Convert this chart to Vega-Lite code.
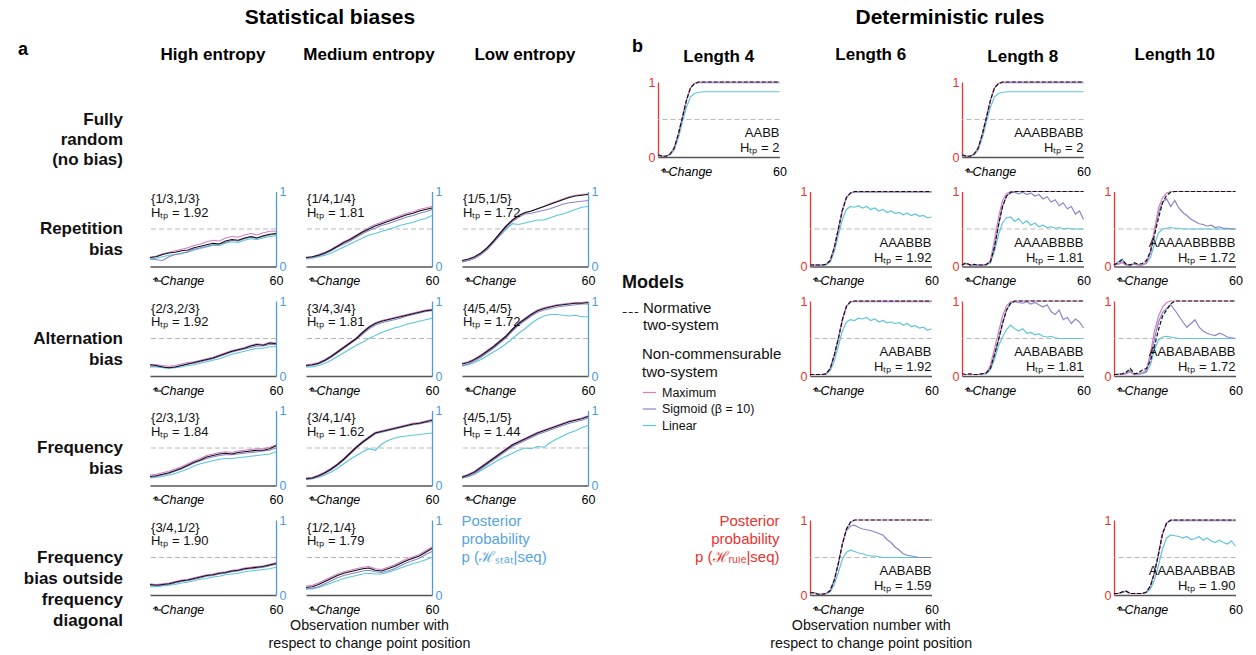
{
"$schema":"https://vega.github.io/schema/vega-lite/v6.json",
"padding":{"left":18,"top":7,"right":0,"bottom":0},
"data":{"values":[
{"p":"rh","x":0,"N":0.12,"M":0.12,"S":0.10,"L":0.10},{"p":"rh","x":3,"N":0.13,"M":0.14,"S":0.09,"L":0.11},{"p":"rh","x":6,"N":0.16,"M":0.17,"S":0.08,"L":0.13},{"p":"rh","x":9,"N":0.18,"M":0.19,"S":0.13,"L":0.15},{"p":"rh","x":12,"N":0.19,"M":0.21,"S":0.16,"L":0.16},{"p":"rh","x":15,"N":0.21,"M":0.23,"S":0.17,"L":0.18},{"p":"rh","x":18,"N":0.22,"M":0.25,"S":0.20,"L":0.19},{"p":"rh","x":21,"N":0.25,"M":0.28,"S":0.23,"L":0.22},{"p":"rh","x":24,"N":0.27,"M":0.30,"S":0.25,"L":0.24},{"p":"rh","x":27,"N":0.29,"M":0.33,"S":0.27,"L":0.26},{"p":"rh","x":30,"N":0.31,"M":0.35,"S":0.29,"L":0.28},{"p":"rh","x":33,"N":0.30,"M":0.34,"S":0.30,"L":0.28},{"p":"rh","x":36,"N":0.34,"M":0.38,"S":0.32,"L":0.31},{"p":"rh","x":39,"N":0.36,"M":0.40,"S":0.35,"L":0.33},{"p":"rh","x":42,"N":0.35,"M":0.39,"S":0.34,"L":0.32},{"p":"rh","x":45,"N":0.38,"M":0.42,"S":0.37,"L":0.35},{"p":"rh","x":48,"N":0.40,"M":0.44,"S":0.39,"L":0.37},{"p":"rh","x":51,"N":0.38,"M":0.42,"S":0.38,"L":0.36},{"p":"rh","x":54,"N":0.41,"M":0.45,"S":0.40,"L":0.38},{"p":"rh","x":57,"N":0.43,"M":0.47,"S":0.42,"L":0.40},{"p":"rh","x":60,"N":0.44,"M":0.47,"S":0.43,"L":0.41},
{"p":"rm","x":0,"N":0.12,"M":0.12,"S":0.11,"L":0.10},{"p":"rm","x":3,"N":0.13,"M":0.13,"S":0.12,"L":0.11},{"p":"rm","x":6,"N":0.15,"M":0.16,"S":0.14,"L":0.13},{"p":"rm","x":9,"N":0.18,"M":0.19,"S":0.17,"L":0.15},{"p":"rm","x":12,"N":0.22,"M":0.23,"S":0.21,"L":0.18},{"p":"rm","x":15,"N":0.27,"M":0.28,"S":0.26,"L":0.22},{"p":"rm","x":18,"N":0.32,"M":0.33,"S":0.30,"L":0.26},{"p":"rm","x":21,"N":0.36,"M":0.37,"S":0.34,"L":0.30},{"p":"rm","x":24,"N":0.41,"M":0.42,"S":0.39,"L":0.34},{"p":"rm","x":27,"N":0.46,"M":0.47,"S":0.44,"L":0.38},{"p":"rm","x":30,"N":0.50,"M":0.52,"S":0.48,"L":0.42},{"p":"rm","x":33,"N":0.54,"M":0.56,"S":0.51,"L":0.44},{"p":"rm","x":36,"N":0.57,"M":0.59,"S":0.55,"L":0.47},{"p":"rm","x":39,"N":0.60,"M":0.62,"S":0.57,"L":0.49},{"p":"rm","x":42,"N":0.63,"M":0.65,"S":0.60,"L":0.52},{"p":"rm","x":45,"N":0.66,"M":0.68,"S":0.63,"L":0.55},{"p":"rm","x":48,"N":0.69,"M":0.71,"S":0.66,"L":0.57},{"p":"rm","x":51,"N":0.71,"M":0.73,"S":0.68,"L":0.59},{"p":"rm","x":54,"N":0.74,"M":0.76,"S":0.71,"L":0.62},{"p":"rm","x":57,"N":0.76,"M":0.78,"S":0.73,"L":0.64},{"p":"rm","x":60,"N":0.78,"M":0.80,"S":0.76,"L":0.68},
{"p":"rl","x":0,"N":0.08,"M":0.07,"S":0.06,"L":0.06},{"p":"rl","x":3,"N":0.10,"M":0.09,"S":0.08,"L":0.08},{"p":"rl","x":6,"N":0.13,"M":0.12,"S":0.11,"L":0.11},{"p":"rl","x":9,"N":0.18,"M":0.17,"S":0.16,"L":0.16},{"p":"rl","x":12,"N":0.25,"M":0.24,"S":0.23,"L":0.23},{"p":"rl","x":15,"N":0.34,"M":0.33,"S":0.32,"L":0.32},{"p":"rl","x":18,"N":0.44,"M":0.43,"S":0.42,"L":0.41},{"p":"rl","x":21,"N":0.54,"M":0.53,"S":0.52,"L":0.50},{"p":"rl","x":24,"N":0.62,"M":0.61,"S":0.60,"L":0.57},{"p":"rl","x":27,"N":0.68,"M":0.67,"S":0.66,"L":0.56},{"p":"rl","x":30,"N":0.72,"M":0.71,"S":0.70,"L":0.58},{"p":"rl","x":33,"N":0.74,"M":0.74,"S":0.71,"L":0.60},{"p":"rl","x":36,"N":0.77,"M":0.77,"S":0.73,"L":0.62},{"p":"rl","x":39,"N":0.80,"M":0.80,"S":0.75,"L":0.62},{"p":"rl","x":42,"N":0.83,"M":0.84,"S":0.77,"L":0.65},{"p":"rl","x":45,"N":0.86,"M":0.87,"S":0.80,"L":0.68},{"p":"rl","x":48,"N":0.89,"M":0.90,"S":0.83,"L":0.70},{"p":"rl","x":51,"N":0.92,"M":0.93,"S":0.85,"L":0.73},{"p":"rl","x":54,"N":0.94,"M":0.95,"S":0.86,"L":0.76},{"p":"rl","x":57,"N":0.95,"M":0.96,"S":0.87,"L":0.79},{"p":"rl","x":60,"N":0.96,"M":0.97,"S":0.88,"L":0.80},
{"p":"ah","x":0,"N":0.15,"M":0.15,"S":0.13,"L":0.12},{"p":"ah","x":3,"N":0.14,"M":0.15,"S":0.13,"L":0.12},{"p":"ah","x":6,"N":0.12,"M":0.14,"S":0.12,"L":0.11},{"p":"ah","x":9,"N":0.11,"M":0.13,"S":0.11,"L":0.10},{"p":"ah","x":12,"N":0.12,"M":0.14,"S":0.12,"L":0.11},{"p":"ah","x":15,"N":0.14,"M":0.16,"S":0.14,"L":0.12},{"p":"ah","x":18,"N":0.16,"M":0.18,"S":0.16,"L":0.14},{"p":"ah","x":21,"N":0.18,"M":0.19,"S":0.17,"L":0.15},{"p":"ah","x":24,"N":0.20,"M":0.21,"S":0.19,"L":0.17},{"p":"ah","x":27,"N":0.22,"M":0.23,"S":0.21,"L":0.19},{"p":"ah","x":30,"N":0.24,"M":0.25,"S":0.23,"L":0.21},{"p":"ah","x":33,"N":0.27,"M":0.28,"S":0.26,"L":0.23},{"p":"ah","x":36,"N":0.30,"M":0.31,"S":0.29,"L":0.26},{"p":"ah","x":39,"N":0.33,"M":0.34,"S":0.32,"L":0.29},{"p":"ah","x":42,"N":0.35,"M":0.36,"S":0.34,"L":0.31},{"p":"ah","x":45,"N":0.37,"M":0.38,"S":0.36,"L":0.33},{"p":"ah","x":48,"N":0.40,"M":0.41,"S":0.38,"L":0.35},{"p":"ah","x":51,"N":0.42,"M":0.43,"S":0.40,"L":0.37},{"p":"ah","x":54,"N":0.41,"M":0.42,"S":0.40,"L":0.37},{"p":"ah","x":57,"N":0.44,"M":0.45,"S":0.42,"L":0.39},{"p":"ah","x":60,"N":0.43,"M":0.44,"S":0.42,"L":0.39},
{"p":"am","x":0,"N":0.14,"M":0.15,"S":0.13,"L":0.12},{"p":"am","x":3,"N":0.15,"M":0.16,"S":0.14,"L":0.12},{"p":"am","x":6,"N":0.17,"M":0.18,"S":0.16,"L":0.14},{"p":"am","x":9,"N":0.21,"M":0.22,"S":0.20,"L":0.17},{"p":"am","x":12,"N":0.26,"M":0.27,"S":0.25,"L":0.21},{"p":"am","x":15,"N":0.32,"M":0.33,"S":0.31,"L":0.26},{"p":"am","x":18,"N":0.38,"M":0.39,"S":0.37,"L":0.31},{"p":"am","x":21,"N":0.44,"M":0.45,"S":0.43,"L":0.36},{"p":"am","x":24,"N":0.50,"M":0.51,"S":0.49,"L":0.41},{"p":"am","x":27,"N":0.58,"M":0.59,"S":0.56,"L":0.45},{"p":"am","x":30,"N":0.65,"M":0.66,"S":0.63,"L":0.50},{"p":"am","x":33,"N":0.70,"M":0.71,"S":0.68,"L":0.54},{"p":"am","x":36,"N":0.73,"M":0.74,"S":0.71,"L":0.58},{"p":"am","x":39,"N":0.75,"M":0.76,"S":0.73,"L":0.61},{"p":"am","x":42,"N":0.77,"M":0.78,"S":0.75,"L":0.64},{"p":"am","x":45,"N":0.79,"M":0.80,"S":0.77,"L":0.66},{"p":"am","x":48,"N":0.81,"M":0.82,"S":0.80,"L":0.69},{"p":"am","x":51,"N":0.83,"M":0.84,"S":0.82,"L":0.71},{"p":"am","x":54,"N":0.85,"M":0.86,"S":0.84,"L":0.73},{"p":"am","x":57,"N":0.87,"M":0.88,"S":0.86,"L":0.75},{"p":"am","x":60,"N":0.88,"M":0.89,"S":0.87,"L":0.77},
{"p":"al","x":0,"N":0.16,"M":0.17,"S":0.14,"L":0.13},{"p":"al","x":3,"N":0.18,"M":0.19,"S":0.16,"L":0.15},{"p":"al","x":6,"N":0.22,"M":0.23,"S":0.20,"L":0.18},{"p":"al","x":9,"N":0.27,"M":0.28,"S":0.25,"L":0.22},{"p":"al","x":12,"N":0.33,"M":0.34,"S":0.31,"L":0.27},{"p":"al","x":15,"N":0.39,"M":0.40,"S":0.37,"L":0.32},{"p":"al","x":18,"N":0.46,"M":0.47,"S":0.44,"L":0.37},{"p":"al","x":21,"N":0.53,"M":0.54,"S":0.51,"L":0.43},{"p":"al","x":24,"N":0.62,"M":0.63,"S":0.60,"L":0.50},{"p":"al","x":27,"N":0.70,"M":0.71,"S":0.68,"L":0.57},{"p":"al","x":30,"N":0.76,"M":0.77,"S":0.74,"L":0.63},{"p":"al","x":33,"N":0.82,"M":0.83,"S":0.80,"L":0.70},{"p":"al","x":36,"N":0.87,"M":0.88,"S":0.85,"L":0.76},{"p":"al","x":39,"N":0.90,"M":0.91,"S":0.88,"L":0.80},{"p":"al","x":42,"N":0.92,"M":0.93,"S":0.90,"L":0.82},{"p":"al","x":45,"N":0.94,"M":0.95,"S":0.92,"L":0.82},{"p":"al","x":48,"N":0.95,"M":0.96,"S":0.93,"L":0.81},{"p":"al","x":51,"N":0.96,"M":0.97,"S":0.94,"L":0.80},{"p":"al","x":54,"N":0.97,"M":0.98,"S":0.95,"L":0.81},{"p":"al","x":57,"N":0.97,"M":0.98,"S":0.96,"L":0.79},{"p":"al","x":60,"N":0.98,"M":0.99,"S":0.96,"L":0.79},
{"p":"fh","x":0,"N":0.12,"M":0.14,"S":0.11,"L":0.10},{"p":"fh","x":3,"N":0.13,"M":0.15,"S":0.12,"L":0.11},{"p":"fh","x":6,"N":0.15,"M":0.17,"S":0.14,"L":0.12},{"p":"fh","x":9,"N":0.17,"M":0.19,"S":0.16,"L":0.14},{"p":"fh","x":12,"N":0.20,"M":0.22,"S":0.19,"L":0.16},{"p":"fh","x":15,"N":0.23,"M":0.25,"S":0.22,"L":0.19},{"p":"fh","x":18,"N":0.27,"M":0.29,"S":0.26,"L":0.22},{"p":"fh","x":21,"N":0.31,"M":0.33,"S":0.30,"L":0.26},{"p":"fh","x":24,"N":0.34,"M":0.36,"S":0.33,"L":0.29},{"p":"fh","x":27,"N":0.38,"M":0.40,"S":0.36,"L":0.31},{"p":"fh","x":30,"N":0.40,"M":0.42,"S":0.38,"L":0.33},{"p":"fh","x":33,"N":0.42,"M":0.44,"S":0.40,"L":0.35},{"p":"fh","x":36,"N":0.43,"M":0.45,"S":0.41,"L":0.36},{"p":"fh","x":39,"N":0.42,"M":0.44,"S":0.41,"L":0.36},{"p":"fh","x":42,"N":0.44,"M":0.46,"S":0.42,"L":0.37},{"p":"fh","x":45,"N":0.45,"M":0.47,"S":0.43,"L":0.38},{"p":"fh","x":48,"N":0.46,"M":0.48,"S":0.44,"L":0.39},{"p":"fh","x":51,"N":0.47,"M":0.49,"S":0.45,"L":0.40},{"p":"fh","x":54,"N":0.47,"M":0.49,"S":0.46,"L":0.41},{"p":"fh","x":57,"N":0.49,"M":0.51,"S":0.47,"L":0.42},{"p":"fh","x":60,"N":0.53,"M":0.54,"S":0.50,"L":0.45},
{"p":"fm","x":0,"N":0.09,"M":0.10,"S":0.08,"L":0.08},{"p":"fm","x":3,"N":0.10,"M":0.11,"S":0.09,"L":0.09},{"p":"fm","x":6,"N":0.13,"M":0.14,"S":0.12,"L":0.11},{"p":"fm","x":9,"N":0.17,"M":0.18,"S":0.16,"L":0.14},{"p":"fm","x":12,"N":0.22,"M":0.23,"S":0.21,"L":0.18},{"p":"fm","x":15,"N":0.28,"M":0.29,"S":0.27,"L":0.23},{"p":"fm","x":18,"N":0.35,"M":0.36,"S":0.34,"L":0.29},{"p":"fm","x":21,"N":0.43,"M":0.44,"S":0.42,"L":0.35},{"p":"fm","x":24,"N":0.51,"M":0.52,"S":0.50,"L":0.40},{"p":"fm","x":27,"N":0.58,"M":0.59,"S":0.57,"L":0.45},{"p":"fm","x":30,"N":0.64,"M":0.65,"S":0.63,"L":0.49},{"p":"fm","x":33,"N":0.70,"M":0.71,"S":0.69,"L":0.47},{"p":"fm","x":36,"N":0.72,"M":0.73,"S":0.71,"L":0.55},{"p":"fm","x":39,"N":0.74,"M":0.75,"S":0.73,"L":0.60},{"p":"fm","x":42,"N":0.76,"M":0.77,"S":0.75,"L":0.63},{"p":"fm","x":45,"N":0.78,"M":0.79,"S":0.77,"L":0.65},{"p":"fm","x":48,"N":0.80,"M":0.81,"S":0.79,"L":0.66},{"p":"fm","x":51,"N":0.82,"M":0.83,"S":0.81,"L":0.67},{"p":"fm","x":54,"N":0.83,"M":0.84,"S":0.82,"L":0.68},{"p":"fm","x":57,"N":0.85,"M":0.86,"S":0.84,"L":0.69},{"p":"fm","x":60,"N":0.87,"M":0.88,"S":0.85,"L":0.70},
{"p":"fl","x":0,"N":0.11,"M":0.12,"S":0.10,"L":0.10},{"p":"fl","x":3,"N":0.14,"M":0.15,"S":0.12,"L":0.12},{"p":"fl","x":6,"N":0.18,"M":0.19,"S":0.16,"L":0.15},{"p":"fl","x":9,"N":0.24,"M":0.25,"S":0.22,"L":0.20},{"p":"fl","x":12,"N":0.30,"M":0.31,"S":0.28,"L":0.25},{"p":"fl","x":15,"N":0.36,"M":0.37,"S":0.34,"L":0.30},{"p":"fl","x":18,"N":0.42,"M":0.43,"S":0.40,"L":0.35},{"p":"fl","x":21,"N":0.48,"M":0.49,"S":0.46,"L":0.39},{"p":"fl","x":24,"N":0.54,"M":0.55,"S":0.52,"L":0.43},{"p":"fl","x":27,"N":0.58,"M":0.59,"S":0.56,"L":0.47},{"p":"fl","x":30,"N":0.62,"M":0.63,"S":0.60,"L":0.50},{"p":"fl","x":33,"N":0.66,"M":0.67,"S":0.64,"L":0.49},{"p":"fl","x":36,"N":0.70,"M":0.71,"S":0.68,"L":0.52},{"p":"fl","x":39,"N":0.73,"M":0.74,"S":0.71,"L":0.51},{"p":"fl","x":42,"N":0.76,"M":0.77,"S":0.74,"L":0.57},{"p":"fl","x":45,"N":0.79,"M":0.80,"S":0.77,"L":0.62},{"p":"fl","x":48,"N":0.82,"M":0.83,"S":0.80,"L":0.66},{"p":"fl","x":51,"N":0.85,"M":0.86,"S":0.83,"L":0.70},{"p":"fl","x":54,"N":0.87,"M":0.88,"S":0.85,"L":0.73},{"p":"fl","x":57,"N":0.89,"M":0.90,"S":0.87,"L":0.77},{"p":"fl","x":60,"N":0.92,"M":0.93,"S":0.90,"L":0.80},
{"p":"oh","x":0,"N":0.14,"M":0.15,"S":0.13,"L":0.11},{"p":"oh","x":3,"N":0.13,"M":0.14,"S":0.12,"L":0.11},{"p":"oh","x":6,"N":0.14,"M":0.15,"S":0.13,"L":0.12},{"p":"oh","x":9,"N":0.15,"M":0.16,"S":0.14,"L":0.13},{"p":"oh","x":12,"N":0.17,"M":0.18,"S":0.16,"L":0.14},{"p":"oh","x":15,"N":0.19,"M":0.20,"S":0.18,"L":0.16},{"p":"oh","x":18,"N":0.20,"M":0.21,"S":0.19,"L":0.17},{"p":"oh","x":21,"N":0.22,"M":0.23,"S":0.21,"L":0.19},{"p":"oh","x":24,"N":0.24,"M":0.25,"S":0.23,"L":0.21},{"p":"oh","x":27,"N":0.26,"M":0.27,"S":0.25,"L":0.22},{"p":"oh","x":30,"N":0.27,"M":0.28,"S":0.26,"L":0.24},{"p":"oh","x":33,"N":0.29,"M":0.30,"S":0.28,"L":0.25},{"p":"oh","x":36,"N":0.30,"M":0.31,"S":0.29,"L":0.27},{"p":"oh","x":39,"N":0.32,"M":0.33,"S":0.31,"L":0.28},{"p":"oh","x":42,"N":0.33,"M":0.34,"S":0.32,"L":0.29},{"p":"oh","x":45,"N":0.35,"M":0.36,"S":0.34,"L":0.31},{"p":"oh","x":48,"N":0.36,"M":0.37,"S":0.35,"L":0.32},{"p":"oh","x":51,"N":0.37,"M":0.38,"S":0.36,"L":0.33},{"p":"oh","x":54,"N":0.38,"M":0.39,"S":0.37,"L":0.34},{"p":"oh","x":57,"N":0.40,"M":0.41,"S":0.39,"L":0.35},{"p":"oh","x":60,"N":0.42,"M":0.43,"S":0.41,"L":0.37},
{"p":"om","x":0,"N":0.10,"M":0.12,"S":0.08,"L":0.08},{"p":"om","x":3,"N":0.11,"M":0.13,"S":0.09,"L":0.08},{"p":"om","x":6,"N":0.14,"M":0.16,"S":0.11,"L":0.10},{"p":"om","x":9,"N":0.18,"M":0.20,"S":0.15,"L":0.13},{"p":"om","x":12,"N":0.22,"M":0.24,"S":0.19,"L":0.16},{"p":"om","x":15,"N":0.26,"M":0.28,"S":0.23,"L":0.19},{"p":"om","x":18,"N":0.29,"M":0.31,"S":0.26,"L":0.22},{"p":"om","x":21,"N":0.31,"M":0.33,"S":0.28,"L":0.24},{"p":"om","x":24,"N":0.33,"M":0.35,"S":0.30,"L":0.26},{"p":"om","x":27,"N":0.35,"M":0.37,"S":0.32,"L":0.28},{"p":"om","x":30,"N":0.36,"M":0.38,"S":0.33,"L":0.29},{"p":"om","x":33,"N":0.33,"M":0.35,"S":0.31,"L":0.28},{"p":"om","x":36,"N":0.32,"M":0.34,"S":0.30,"L":0.28},{"p":"om","x":39,"N":0.35,"M":0.37,"S":0.32,"L":0.30},{"p":"om","x":42,"N":0.38,"M":0.40,"S":0.35,"L":0.33},{"p":"om","x":45,"N":0.42,"M":0.44,"S":0.39,"L":0.36},{"p":"om","x":48,"N":0.46,"M":0.48,"S":0.43,"L":0.39},{"p":"om","x":51,"N":0.49,"M":0.51,"S":0.46,"L":0.42},{"p":"om","x":54,"N":0.52,"M":0.54,"S":0.49,"L":0.44},{"p":"om","x":57,"N":0.57,"M":0.59,"S":0.54,"L":0.47},{"p":"om","x":60,"N":0.62,"M":0.64,"S":0.58,"L":0.50},
{"p":"b4","x":0,"N":0.03,"M":0.03,"S":0.03,"L":0.02},{"p":"b4","x":2,"N":0.01,"M":0.01,"S":0.01,"L":0.01},{"p":"b4","x":4,"N":0.01,"M":0.01,"S":0.01,"L":0.01},{"p":"b4","x":6,"N":0.04,"M":0.04,"S":0.04,"L":0.03},{"p":"b4","x":8,"N":0.12,"M":0.12,"S":0.12,"L":0.09},{"p":"b4","x":10,"N":0.30,"M":0.30,"S":0.30,"L":0.25},{"p":"b4","x":12,"N":0.52,"M":0.52,"S":0.52,"L":0.46},{"p":"b4","x":14,"N":0.75,"M":0.75,"S":0.75,"L":0.66},{"p":"b4","x":16,"N":0.92,"M":0.92,"S":0.92,"L":0.80},{"p":"b4","x":18,"N":0.98,"M":0.98,"S":0.98,"L":0.85},{"p":"b4","x":20,"N":1,"M":1,"S":0.99,"L":0.86},{"p":"b4","x":22,"N":1,"M":1,"S":0.99,"L":0.87},{"p":"b4","x":24,"N":1,"M":1,"S":0.99,"L":0.87},{"p":"b4","x":26,"N":1,"M":1,"S":0.99,"L":0.87},{"p":"b4","x":28,"N":1,"M":1,"S":0.99,"L":0.87},{"p":"b4","x":30,"N":1,"M":1,"S":0.99,"L":0.87},{"p":"b4","x":32,"N":1,"M":1,"S":0.99,"L":0.87},{"p":"b4","x":34,"N":1,"M":1,"S":0.99,"L":0.87},{"p":"b4","x":36,"N":1,"M":1,"S":0.99,"L":0.87},{"p":"b4","x":38,"N":1,"M":1,"S":0.99,"L":0.87},{"p":"b4","x":40,"N":1,"M":1,"S":0.99,"L":0.87},{"p":"b4","x":42,"N":1,"M":1,"S":0.99,"L":0.87},{"p":"b4","x":44,"N":1,"M":1,"S":0.99,"L":0.87},{"p":"b4","x":46,"N":1,"M":1,"S":0.99,"L":0.87},{"p":"b4","x":48,"N":1,"M":1,"S":0.99,"L":0.87},{"p":"b4","x":50,"N":1,"M":1,"S":0.99,"L":0.87},{"p":"b4","x":52,"N":1,"M":1,"S":0.99,"L":0.87},{"p":"b4","x":54,"N":1,"M":1,"S":0.99,"L":0.87},{"p":"b4","x":56,"N":1,"M":1,"S":0.99,"L":0.87},{"p":"b4","x":58,"N":1,"M":1,"S":0.99,"L":0.87},{"p":"b4","x":60,"N":1,"M":1,"S":0.99,"L":0.87},
{"p":"b8","x":0,"N":0.03,"M":0.03,"S":0.03,"L":0.02},{"p":"b8","x":2,"N":0.01,"M":0.01,"S":0.01,"L":0.01},{"p":"b8","x":4,"N":0.01,"M":0.01,"S":0.01,"L":0.01},{"p":"b8","x":6,"N":0.04,"M":0.04,"S":0.04,"L":0.03},{"p":"b8","x":8,"N":0.12,"M":0.12,"S":0.12,"L":0.09},{"p":"b8","x":10,"N":0.30,"M":0.30,"S":0.30,"L":0.25},{"p":"b8","x":12,"N":0.52,"M":0.52,"S":0.52,"L":0.46},{"p":"b8","x":14,"N":0.75,"M":0.75,"S":0.75,"L":0.66},{"p":"b8","x":16,"N":0.92,"M":0.92,"S":0.92,"L":0.80},{"p":"b8","x":18,"N":0.98,"M":0.98,"S":0.98,"L":0.85},{"p":"b8","x":20,"N":1,"M":1,"S":0.99,"L":0.86},{"p":"b8","x":22,"N":1,"M":1,"S":0.99,"L":0.87},{"p":"b8","x":24,"N":1,"M":1,"S":0.99,"L":0.87},{"p":"b8","x":26,"N":1,"M":1,"S":0.99,"L":0.87},{"p":"b8","x":28,"N":1,"M":1,"S":0.99,"L":0.87},{"p":"b8","x":30,"N":1,"M":1,"S":0.99,"L":0.87},{"p":"b8","x":32,"N":1,"M":1,"S":0.99,"L":0.87},{"p":"b8","x":34,"N":1,"M":1,"S":0.99,"L":0.87},{"p":"b8","x":36,"N":1,"M":1,"S":0.99,"L":0.87},{"p":"b8","x":38,"N":1,"M":1,"S":0.99,"L":0.87},{"p":"b8","x":40,"N":1,"M":1,"S":0.99,"L":0.87},{"p":"b8","x":42,"N":1,"M":1,"S":0.99,"L":0.87},{"p":"b8","x":44,"N":1,"M":1,"S":0.99,"L":0.87},{"p":"b8","x":46,"N":1,"M":1,"S":0.99,"L":0.87},{"p":"b8","x":48,"N":1,"M":1,"S":0.99,"L":0.87},{"p":"b8","x":50,"N":1,"M":1,"S":0.99,"L":0.87},{"p":"b8","x":52,"N":1,"M":1,"S":0.99,"L":0.87},{"p":"b8","x":54,"N":1,"M":1,"S":0.99,"L":0.87},{"p":"b8","x":56,"N":1,"M":1,"S":0.99,"L":0.87},{"p":"b8","x":58,"N":1,"M":1,"S":0.99,"L":0.87},{"p":"b8","x":60,"N":1,"M":1,"S":0.99,"L":0.87},
{"p":"b6r2","x":0,"N":0.02,"M":0.02,"S":0.02,"L":0.02},{"p":"b6r2","x":2,"N":0.02,"M":0.02,"S":0.02,"L":0.02},{"p":"b6r2","x":4,"N":0.02,"M":0.02,"S":0.02,"L":0.02},{"p":"b6r2","x":6,"N":0.02,"M":0.02,"S":0.02,"L":0.02},{"p":"b6r2","x":8,"N":0.03,"M":0.03,"S":0.03,"L":0.02},{"p":"b6r2","x":10,"N":0.08,"M":0.08,"S":0.08,"L":0.06},{"p":"b6r2","x":12,"N":0.25,"M":0.25,"S":0.25,"L":0.20},{"p":"b6r2","x":14,"N":0.50,"M":0.50,"S":0.50,"L":0.42},{"p":"b6r2","x":16,"N":0.75,"M":0.75,"S":0.75,"L":0.63},{"p":"b6r2","x":18,"N":0.92,"M":0.92,"S":0.92,"L":0.76},{"p":"b6r2","x":20,"N":0.98,"M":0.98,"S":0.98,"L":0.80},{"p":"b6r2","x":22,"N":1,"M":1,"S":0.99,"L":0.79},{"p":"b6r2","x":24,"N":1,"M":1,"S":0.99,"L":0.81},{"p":"b6r2","x":26,"N":1,"M":1,"S":0.99,"L":0.78},{"p":"b6r2","x":28,"N":1,"M":1,"S":0.99,"L":0.80},{"p":"b6r2","x":30,"N":1,"M":1,"S":0.99,"L":0.76},{"p":"b6r2","x":32,"N":1,"M":1,"S":0.99,"L":0.78},{"p":"b6r2","x":34,"N":1,"M":1,"S":0.99,"L":0.74},{"p":"b6r2","x":36,"N":1,"M":1,"S":0.99,"L":0.76},{"p":"b6r2","x":38,"N":1,"M":1,"S":0.99,"L":0.72},{"p":"b6r2","x":40,"N":1,"M":1,"S":0.99,"L":0.74},{"p":"b6r2","x":42,"N":1,"M":1,"S":0.99,"L":0.71},{"p":"b6r2","x":44,"N":1,"M":1,"S":0.99,"L":0.72},{"p":"b6r2","x":46,"N":1,"M":1,"S":0.99,"L":0.69},{"p":"b6r2","x":48,"N":1,"M":1,"S":0.99,"L":0.71},{"p":"b6r2","x":50,"N":1,"M":1,"S":0.99,"L":0.68},{"p":"b6r2","x":52,"N":1,"M":1,"S":0.99,"L":0.70},{"p":"b6r2","x":54,"N":1,"M":1,"S":0.99,"L":0.67},{"p":"b6r2","x":56,"N":1,"M":1,"S":0.99,"L":0.68},{"p":"b6r2","x":58,"N":1,"M":1,"S":0.99,"L":0.65},{"p":"b6r2","x":60,"N":1,"M":1,"S":0.99,"L":0.66},
{"p":"b8r2","x":0,"N":0.02,"M":0.02,"S":0.02,"L":0.02},{"p":"b8r2","x":2,"N":0.05,"M":0.04,"S":0.04,"L":0.04},{"p":"b8r2","x":4,"N":0.02,"M":0.02,"S":0.02,"L":0.02},{"p":"b8r2","x":6,"N":0.03,"M":0.02,"S":0.02,"L":0.02},{"p":"b8r2","x":8,"N":0.02,"M":0.02,"S":0.02,"L":0.02},{"p":"b8r2","x":10,"N":0.02,"M":0.02,"S":0.02,"L":0.02},{"p":"b8r2","x":12,"N":0.03,"M":0.02,"S":0.02,"L":0.02},{"p":"b8r2","x":14,"N":0.06,"M":0.08,"S":0.06,"L":0.05},{"p":"b8r2","x":16,"N":0.25,"M":0.35,"S":0.25,"L":0.20},{"p":"b8r2","x":18,"N":0.55,"M":0.65,"S":0.55,"L":0.42},{"p":"b8r2","x":20,"N":0.80,"M":0.88,"S":0.80,"L":0.58},{"p":"b8r2","x":22,"N":0.94,"M":0.97,"S":0.94,"L":0.65},{"p":"b8r2","x":24,"N":0.99,"M":1,"S":0.98,"L":0.66},{"p":"b8r2","x":26,"N":1,"M":1,"S":0.99,"L":0.60},{"p":"b8r2","x":28,"N":1,"M":1,"S":0.97,"L":0.64},{"p":"b8r2","x":30,"N":1,"M":1,"S":0.99,"L":0.57},{"p":"b8r2","x":32,"N":1,"M":1,"S":0.96,"L":0.61},{"p":"b8r2","x":34,"N":1,"M":1,"S":0.98,"L":0.55},{"p":"b8r2","x":36,"N":1,"M":1,"S":0.94,"L":0.58},{"p":"b8r2","x":38,"N":1,"M":1,"S":0.96,"L":0.53},{"p":"b8r2","x":40,"N":1,"M":1,"S":0.90,"L":0.55},{"p":"b8r2","x":42,"N":1,"M":1,"S":0.93,"L":0.52},{"p":"b8r2","x":44,"N":1,"M":1,"S":0.86,"L":0.53},{"p":"b8r2","x":46,"N":1,"M":1,"S":0.89,"L":0.51},{"p":"b8r2","x":48,"N":1,"M":1,"S":0.81,"L":0.52},{"p":"b8r2","x":50,"N":1,"M":1,"S":0.85,"L":0.50},{"p":"b8r2","x":52,"N":1,"M":1,"S":0.77,"L":0.51},{"p":"b8r2","x":54,"N":1,"M":1,"S":0.80,"L":0.50},{"p":"b8r2","x":56,"N":1,"M":1,"S":0.70,"L":0.50},{"p":"b8r2","x":58,"N":1,"M":1,"S":0.74,"L":0.50},{"p":"b8r2","x":60,"N":1,"M":1,"S":0.63,"L":0.50},
{"p":"b10r2","x":0,"N":0.02,"M":0.02,"S":0.02,"L":0.02},{"p":"b10r2","x":2,"N":0.05,"M":0.03,"S":0.03,"L":0.06},{"p":"b10r2","x":4,"N":0.09,"M":0.05,"S":0.06,"L":0.10},{"p":"b10r2","x":6,"N":0.03,"M":0.02,"S":0.02,"L":0.03},{"p":"b10r2","x":8,"N":0.02,"M":0.02,"S":0.02,"L":0.02},{"p":"b10r2","x":10,"N":0.05,"M":0.03,"S":0.03,"L":0.04},{"p":"b10r2","x":12,"N":0.03,"M":0.02,"S":0.02,"L":0.02},{"p":"b10r2","x":14,"N":0.04,"M":0.02,"S":0.02,"L":0.02},{"p":"b10r2","x":16,"N":0.08,"M":0.05,"S":0.05,"L":0.04},{"p":"b10r2","x":18,"N":0.20,"M":0.20,"S":0.18,"L":0.12},{"p":"b10r2","x":20,"N":0.42,"M":0.50,"S":0.45,"L":0.30},{"p":"b10r2","x":22,"N":0.65,"M":0.78,"S":0.72,"L":0.45},{"p":"b10r2","x":24,"N":0.85,"M":0.92,"S":0.86,"L":0.50},{"p":"b10r2","x":26,"N":0.95,"M":0.98,"S":0.90,"L":0.51},{"p":"b10r2","x":28,"N":0.99,"M":1,"S":0.80,"L":0.52},{"p":"b10r2","x":30,"N":1,"M":1,"S":0.88,"L":0.51},{"p":"b10r2","x":32,"N":1,"M":1,"S":0.78,"L":0.51},{"p":"b10r2","x":34,"N":1,"M":1,"S":0.72,"L":0.50},{"p":"b10r2","x":36,"N":1,"M":1,"S":0.68,"L":0.50},{"p":"b10r2","x":38,"N":1,"M":1,"S":0.63,"L":0.50},{"p":"b10r2","x":40,"N":1,"M":1,"S":0.60,"L":0.50},{"p":"b10r2","x":42,"N":1,"M":1,"S":0.57,"L":0.50},{"p":"b10r2","x":44,"N":1,"M":1,"S":0.56,"L":0.50},{"p":"b10r2","x":46,"N":1,"M":1,"S":0.54,"L":0.50},{"p":"b10r2","x":48,"N":1,"M":1,"S":0.55,"L":0.50},{"p":"b10r2","x":50,"N":1,"M":1,"S":0.52,"L":0.50},{"p":"b10r2","x":52,"N":1,"M":1,"S":0.53,"L":0.50},{"p":"b10r2","x":54,"N":1,"M":1,"S":0.51,"L":0.50},{"p":"b10r2","x":56,"N":1,"M":1,"S":0.51,"L":0.50},{"p":"b10r2","x":58,"N":1,"M":1,"S":0.50,"L":0.50},{"p":"b10r2","x":60,"N":1,"M":1,"S":0.50,"L":0.50},
{"p":"b6r3","x":0,"N":0.02,"M":0.02,"S":0.02,"L":0.02},{"p":"b6r3","x":2,"N":0.02,"M":0.02,"S":0.02,"L":0.02},{"p":"b6r3","x":4,"N":0.02,"M":0.02,"S":0.02,"L":0.02},{"p":"b6r3","x":6,"N":0.02,"M":0.02,"S":0.02,"L":0.02},{"p":"b6r3","x":8,"N":0.03,"M":0.03,"S":0.03,"L":0.02},{"p":"b6r3","x":10,"N":0.10,"M":0.10,"S":0.10,"L":0.07},{"p":"b6r3","x":12,"N":0.28,"M":0.28,"S":0.28,"L":0.20},{"p":"b6r3","x":14,"N":0.50,"M":0.50,"S":0.50,"L":0.40},{"p":"b6r3","x":16,"N":0.75,"M":0.75,"S":0.75,"L":0.60},{"p":"b6r3","x":18,"N":0.93,"M":0.93,"S":0.93,"L":0.72},{"p":"b6r3","x":20,"N":0.99,"M":0.99,"S":0.99,"L":0.75},{"p":"b6r3","x":22,"N":1,"M":1,"S":0.99,"L":0.74},{"p":"b6r3","x":24,"N":1,"M":1,"S":0.99,"L":0.77},{"p":"b6r3","x":26,"N":1,"M":1,"S":0.99,"L":0.76},{"p":"b6r3","x":28,"N":1,"M":1,"S":0.99,"L":0.78},{"p":"b6r3","x":30,"N":1,"M":1,"S":0.99,"L":0.74},{"p":"b6r3","x":32,"N":1,"M":1,"S":0.99,"L":0.76},{"p":"b6r3","x":34,"N":1,"M":1,"S":0.99,"L":0.72},{"p":"b6r3","x":36,"N":1,"M":1,"S":0.99,"L":0.74},{"p":"b6r3","x":38,"N":1,"M":1,"S":0.99,"L":0.71},{"p":"b6r3","x":40,"N":1,"M":1,"S":0.99,"L":0.72},{"p":"b6r3","x":42,"N":1,"M":1,"S":0.99,"L":0.70},{"p":"b6r3","x":44,"N":1,"M":1,"S":0.99,"L":0.71},{"p":"b6r3","x":46,"N":1,"M":1,"S":0.99,"L":0.68},{"p":"b6r3","x":48,"N":1,"M":1,"S":0.99,"L":0.70},{"p":"b6r3","x":50,"N":1,"M":1,"S":0.99,"L":0.66},{"p":"b6r3","x":52,"N":1,"M":1,"S":0.99,"L":0.67},{"p":"b6r3","x":54,"N":1,"M":1,"S":0.99,"L":0.64},{"p":"b6r3","x":56,"N":1,"M":1,"S":0.99,"L":0.65},{"p":"b6r3","x":58,"N":1,"M":1,"S":0.99,"L":0.61},{"p":"b6r3","x":60,"N":1,"M":1,"S":0.99,"L":0.63},
{"p":"b8r3","x":0,"N":0.03,"M":0.02,"S":0.02,"L":0.02},{"p":"b8r3","x":2,"N":0.02,"M":0.02,"S":0.02,"L":0.02},{"p":"b8r3","x":4,"N":0.03,"M":0.02,"S":0.02,"L":0.02},{"p":"b8r3","x":6,"N":0.02,"M":0.02,"S":0.02,"L":0.02},{"p":"b8r3","x":8,"N":0.02,"M":0.02,"S":0.02,"L":0.02},{"p":"b8r3","x":10,"N":0.03,"M":0.03,"S":0.03,"L":0.02},{"p":"b8r3","x":12,"N":0.04,"M":0.04,"S":0.04,"L":0.03},{"p":"b8r3","x":14,"N":0.10,"M":0.14,"S":0.10,"L":0.08},{"p":"b8r3","x":16,"N":0.28,"M":0.36,"S":0.28,"L":0.22},{"p":"b8r3","x":18,"N":0.48,"M":0.58,"S":0.48,"L":0.40},{"p":"b8r3","x":20,"N":0.70,"M":0.80,"S":0.70,"L":0.52},{"p":"b8r3","x":22,"N":0.88,"M":0.94,"S":0.88,"L":0.62},{"p":"b8r3","x":24,"N":0.97,"M":0.99,"S":0.97,"L":0.68},{"p":"b8r3","x":26,"N":1,"M":1,"S":0.99,"L":0.63},{"p":"b8r3","x":28,"N":1,"M":1,"S":0.98,"L":0.60},{"p":"b8r3","x":30,"N":1,"M":1,"S":0.97,"L":0.63},{"p":"b8r3","x":32,"N":1,"M":1,"S":0.99,"L":0.57},{"p":"b8r3","x":34,"N":1,"M":1,"S":0.96,"L":0.58},{"p":"b8r3","x":36,"N":1,"M":1,"S":0.98,"L":0.55},{"p":"b8r3","x":38,"N":1,"M":1,"S":0.95,"L":0.56},{"p":"b8r3","x":40,"N":1,"M":1,"S":0.92,"L":0.53},{"p":"b8r3","x":42,"N":1,"M":1,"S":0.95,"L":0.52},{"p":"b8r3","x":44,"N":1,"M":1,"S":0.86,"L":0.53},{"p":"b8r3","x":46,"N":1,"M":1,"S":0.82,"L":0.51},{"p":"b8r3","x":48,"N":1,"M":1,"S":0.88,"L":0.50},{"p":"b8r3","x":50,"N":1,"M":1,"S":0.75,"L":0.50},{"p":"b8r3","x":52,"N":1,"M":1,"S":0.78,"L":0.50},{"p":"b8r3","x":54,"N":1,"M":1,"S":0.70,"L":0.50},{"p":"b8r3","x":56,"N":1,"M":1,"S":0.76,"L":0.50},{"p":"b8r3","x":58,"N":1,"M":1,"S":0.72,"L":0.50},{"p":"b8r3","x":60,"N":1,"M":1,"S":0.64,"L":0.50},
{"p":"b10r3","x":0,"N":0.02,"M":0.02,"S":0.02,"L":0.02},{"p":"b10r3","x":2,"N":0.02,"M":0.02,"S":0.02,"L":0.03},{"p":"b10r3","x":4,"N":0.03,"M":0.02,"S":0.02,"L":0.03},{"p":"b10r3","x":6,"N":0.05,"M":0.03,"S":0.03,"L":0.04},{"p":"b10r3","x":8,"N":0.10,"M":0.06,"S":0.06,"L":0.08},{"p":"b10r3","x":10,"N":0.03,"M":0.02,"S":0.02,"L":0.02},{"p":"b10r3","x":12,"N":0.04,"M":0.03,"S":0.03,"L":0.02},{"p":"b10r3","x":14,"N":0.08,"M":0.04,"S":0.04,"L":0.03},{"p":"b10r3","x":16,"N":0.10,"M":0.08,"S":0.06,"L":0.05},{"p":"b10r3","x":18,"N":0.20,"M":0.30,"S":0.25,"L":0.15},{"p":"b10r3","x":20,"N":0.40,"M":0.60,"S":0.50,"L":0.35},{"p":"b10r3","x":22,"N":0.62,"M":0.80,"S":0.72,"L":0.48},{"p":"b10r3","x":24,"N":0.80,"M":0.92,"S":0.85,"L":0.52},{"p":"b10r3","x":26,"N":0.88,"M":0.98,"S":0.90,"L":0.53},{"p":"b10r3","x":28,"N":0.96,"M":1,"S":0.95,"L":0.52},{"p":"b10r3","x":30,"N":1,"M":1,"S":0.88,"L":0.51},{"p":"b10r3","x":32,"N":1,"M":1,"S":0.80,"L":0.50},{"p":"b10r3","x":34,"N":1,"M":1,"S":0.72,"L":0.50},{"p":"b10r3","x":36,"N":1,"M":1,"S":0.65,"L":0.50},{"p":"b10r3","x":38,"N":1,"M":1,"S":0.70,"L":0.50},{"p":"b10r3","x":40,"N":1,"M":1,"S":0.75,"L":0.50},{"p":"b10r3","x":42,"N":1,"M":1,"S":0.65,"L":0.50},{"p":"b10r3","x":44,"N":1,"M":1,"S":0.60,"L":0.50},{"p":"b10r3","x":46,"N":1,"M":1,"S":0.57,"L":0.50},{"p":"b10r3","x":48,"N":1,"M":1,"S":0.55,"L":0.50},{"p":"b10r3","x":50,"N":1,"M":1,"S":0.54,"L":0.50},{"p":"b10r3","x":52,"N":1,"M":1,"S":0.57,"L":0.50},{"p":"b10r3","x":54,"N":1,"M":1,"S":0.55,"L":0.50},{"p":"b10r3","x":56,"N":1,"M":1,"S":0.52,"L":0.50},{"p":"b10r3","x":58,"N":1,"M":1,"S":0.51,"L":0.50},{"p":"b10r3","x":60,"N":1,"M":1,"S":0.50,"L":0.50},
{"p":"b6r5","x":0,"N":0.03,"M":0.03,"S":0.03,"L":0.03},{"p":"b6r5","x":2,"N":0.03,"M":0.03,"S":0.03,"L":0.03},{"p":"b6r5","x":4,"N":0.01,"M":0.01,"S":0.01,"L":0.01},{"p":"b6r5","x":6,"N":0.01,"M":0.01,"S":0.01,"L":0.01},{"p":"b6r5","x":8,"N":0.02,"M":0.02,"S":0.02,"L":0.02},{"p":"b6r5","x":10,"N":0.06,"M":0.06,"S":0.06,"L":0.04},{"p":"b6r5","x":12,"N":0.20,"M":0.20,"S":0.20,"L":0.14},{"p":"b6r5","x":14,"N":0.42,"M":0.42,"S":0.42,"L":0.30},{"p":"b6r5","x":16,"N":0.68,"M":0.68,"S":0.68,"L":0.48},{"p":"b6r5","x":18,"N":0.88,"M":0.88,"S":0.86,"L":0.57},{"p":"b6r5","x":20,"N":0.97,"M":0.97,"S":0.92,"L":0.60},{"p":"b6r5","x":22,"N":1,"M":1,"S":0.93,"L":0.58},{"p":"b6r5","x":24,"N":1,"M":1,"S":0.90,"L":0.56},{"p":"b6r5","x":26,"N":1,"M":1,"S":0.88,"L":0.55},{"p":"b6r5","x":28,"N":1,"M":1,"S":0.87,"L":0.53},{"p":"b6r5","x":30,"N":1,"M":1,"S":0.86,"L":0.52},{"p":"b6r5","x":32,"N":1,"M":1,"S":0.84,"L":0.52},{"p":"b6r5","x":34,"N":1,"M":1,"S":0.82,"L":0.51},{"p":"b6r5","x":36,"N":1,"M":1,"S":0.80,"L":0.50},{"p":"b6r5","x":38,"N":1,"M":1,"S":0.74,"L":0.50},{"p":"b6r5","x":40,"N":1,"M":1,"S":0.70,"L":0.50},{"p":"b6r5","x":42,"N":1,"M":1,"S":0.64,"L":0.50},{"p":"b6r5","x":44,"N":1,"M":1,"S":0.60,"L":0.50},{"p":"b6r5","x":46,"N":1,"M":1,"S":0.55,"L":0.50},{"p":"b6r5","x":48,"N":1,"M":1,"S":0.53,"L":0.50},{"p":"b6r5","x":50,"N":1,"M":1,"S":0.52,"L":0.50},{"p":"b6r5","x":52,"N":1,"M":1,"S":0.51,"L":0.50},{"p":"b6r5","x":54,"N":1,"M":1,"S":0.50,"L":0.50},{"p":"b6r5","x":56,"N":1,"M":1,"S":0.50,"L":0.50},{"p":"b6r5","x":58,"N":1,"M":1,"S":0.50,"L":0.50},{"p":"b6r5","x":60,"N":1,"M":1,"S":0.50,"L":0.50},
{"p":"b10r5","x":0,"N":0.02,"M":0.02,"S":0.02,"L":0.02},{"p":"b10r5","x":2,"N":0.02,"M":0.02,"S":0.02,"L":0.02},{"p":"b10r5","x":4,"N":0.04,"M":0.04,"S":0.04,"L":0.03},{"p":"b10r5","x":6,"N":0.05,"M":0.05,"S":0.05,"L":0.05},{"p":"b10r5","x":8,"N":0.02,"M":0.02,"S":0.02,"L":0.02},{"p":"b10r5","x":10,"N":0.02,"M":0.02,"S":0.02,"L":0.02},{"p":"b10r5","x":12,"N":0.02,"M":0.02,"S":0.02,"L":0.02},{"p":"b10r5","x":14,"N":0.02,"M":0.02,"S":0.02,"L":0.02},{"p":"b10r5","x":16,"N":0.04,"M":0.04,"S":0.04,"L":0.03},{"p":"b10r5","x":18,"N":0.12,"M":0.12,"S":0.12,"L":0.08},{"p":"b10r5","x":20,"N":0.30,"M":0.30,"S":0.30,"L":0.20},{"p":"b10r5","x":22,"N":0.55,"M":0.55,"S":0.55,"L":0.40},{"p":"b10r5","x":24,"N":0.82,"M":0.82,"S":0.82,"L":0.62},{"p":"b10r5","x":26,"N":0.96,"M":0.96,"S":0.96,"L":0.76},{"p":"b10r5","x":28,"N":1,"M":1,"S":0.99,"L":0.80},{"p":"b10r5","x":30,"N":1,"M":1,"S":0.99,"L":0.79},{"p":"b10r5","x":32,"N":1,"M":1,"S":0.99,"L":0.78},{"p":"b10r5","x":34,"N":1,"M":1,"S":0.99,"L":0.76},{"p":"b10r5","x":36,"N":1,"M":1,"S":0.99,"L":0.78},{"p":"b10r5","x":38,"N":1,"M":1,"S":0.99,"L":0.74},{"p":"b10r5","x":40,"N":1,"M":1,"S":0.99,"L":0.75},{"p":"b10r5","x":42,"N":1,"M":1,"S":0.99,"L":0.78},{"p":"b10r5","x":44,"N":1,"M":1,"S":0.99,"L":0.73},{"p":"b10r5","x":46,"N":1,"M":1,"S":0.99,"L":0.76},{"p":"b10r5","x":48,"N":1,"M":1,"S":0.99,"L":0.72},{"p":"b10r5","x":50,"N":1,"M":1,"S":0.99,"L":0.70},{"p":"b10r5","x":52,"N":1,"M":1,"S":0.99,"L":0.73},{"p":"b10r5","x":54,"N":1,"M":1,"S":0.99,"L":0.70},{"p":"b10r5","x":56,"N":1,"M":1,"S":0.99,"L":0.68},{"p":"b10r5","x":58,"N":1,"M":1,"S":0.99,"L":0.72},{"p":"b10r5","x":60,"N":1,"M":1,"S":0.99,"L":0.65}
]},
"columns":9,
"spacing":{"row":34.5,"column":30},
"bounds":"flush",
"resolve":{"scale":{"color":"independent","strokeDash":"independent"},"legend":{"color":"independent","strokeDash":"independent"}},
"concat":[
{"width":64,"height":75,"title":{"text":"a","anchor":"start","offset":23,"dx":-38,"fontSize":18},"data":{"values":[{}]},"mark":{"type":"text","align":"right","dx":35,"fontSize":17,"fontWeight":"bold","lineHeight":20},"encoding":{"text":{"value":["Fully","random","(no bias)"]}}},
{"width":126,"height":75,"title":"High entropy","data":{"values":[]},"mark":"point","encoding":{}},
{"width":126,"height":75,"title":"Medium entropy","data":{"values":[]},"mark":"point","encoding":{}},
{"width":126,"height":75,"title":"Low entropy","data":{"values":[]},"mark":"point","encoding":{}},
{"width":10,"height":75,"title":{"text":"b","anchor":"start","offset":26,"dx":14,"fontSize":18},"data":{"values":[]},"mark":"point","encoding":{}},
{"width":121.5,"height":75,"title":{"text":"Length 4","offset":10},"transform":[{"filter":"datum.p=='b4'"}],"layer":[
{"transform":[{"filter":"datum.x==0"}],"mark":{"type":"rule","color":"#b8b8b8","strokeDash":[5,3],"strokeWidth":1},"encoding":{"y":{"datum":0.5}}},
{"mark":{"type":"line","color":"#5fc6da"},"encoding":{"x":{"field":"x","type":"quantitative","scale":{"domain":[0,60]},"axis":{"values":[0,60],"title":null,"domainColor":"#555555","labelExpr":"datum.value==0?'⬑Change':'60'","labelAlign":{"condition":{"test":"datum.value==0","value":"left"},"value":"center"},"labelFontStyle":{"condition":{"test":"datum.value==0","value":"italic"},"value":"normal"}}},"y":{"field":"L","type":"quantitative","scale":{"domain":[0,1]},"axis":{"orient":"left","values":[0,0.5,1],"format":"~g","title":null,"domainColor":"#e8332f","labelColor":"#e8332f"}}}},
{"mark":{"type":"line","color":"#8787c9"},"encoding":{"x":{"field":"x","type":"quantitative"},"y":{"field":"S","type":"quantitative"}}},
{"mark":{"type":"line","color":"#d67ec4"},"encoding":{"x":{"field":"x","type":"quantitative"},"y":{"field":"M","type":"quantitative"}}},
{"mark":{"type":"line","color":"#111111","strokeDash":[4,2]},"encoding":{"x":{"field":"x","type":"quantitative"},"y":{"field":"N","type":"quantitative"}}},
{"transform":[{"filter":"datum.x==0"}],"mark":{"type":"text","align":"right"},"encoding":{"x":{"datum":60},"y":{"datum":0.32},"text":{"value":"AABB"}}},
{"transform":[{"filter":"datum.x==0"}],"mark":{"type":"text","align":"right"},"encoding":{"x":{"datum":60},"y":{"datum":0.12},"text":{"value":"Hₜₚ = 2"}}}]},
{"width":121.5,"height":75,"title":"Length 6","data":{"values":[]},"mark":"point","encoding":{}},
{"width":121.5,"height":75,"title":{"text":"Length 8","offset":10},"transform":[{"filter":"datum.p=='b8'"}],"layer":[
{"transform":[{"filter":"datum.x==0"}],"mark":{"type":"rule","color":"#b8b8b8","strokeDash":[5,3],"strokeWidth":1},"encoding":{"y":{"datum":0.5}}},
{"mark":{"type":"line","color":"#5fc6da"},"encoding":{"x":{"field":"x","type":"quantitative","scale":{"domain":[0,60]},"axis":{"values":[0,60],"title":null,"domainColor":"#555555","labelExpr":"datum.value==0?'⬑Change':'60'","labelAlign":{"condition":{"test":"datum.value==0","value":"left"},"value":"center"},"labelFontStyle":{"condition":{"test":"datum.value==0","value":"italic"},"value":"normal"}}},"y":{"field":"L","type":"quantitative","scale":{"domain":[0,1]},"axis":{"orient":"left","values":[0,0.5,1],"format":"~g","title":null,"domainColor":"#e8332f","labelColor":"#e8332f"}}}},
{"mark":{"type":"line","color":"#8787c9"},"encoding":{"x":{"field":"x","type":"quantitative"},"y":{"field":"S","type":"quantitative"}}},
{"mark":{"type":"line","color":"#d67ec4"},"encoding":{"x":{"field":"x","type":"quantitative"},"y":{"field":"M","type":"quantitative"}}},
{"mark":{"type":"line","color":"#111111","strokeDash":[4,2]},"encoding":{"x":{"field":"x","type":"quantitative"},"y":{"field":"N","type":"quantitative"}}},
{"transform":[{"filter":"datum.x==0"}],"mark":{"type":"text","align":"right"},"encoding":{"x":{"datum":60},"y":{"datum":0.32},"text":{"value":"AAABBABB"}}},
{"transform":[{"filter":"datum.x==0"}],"mark":{"type":"text","align":"right"},"encoding":{"x":{"datum":60},"y":{"datum":0.12},"text":{"value":"Hₜₚ = 2"}}}]},
{"width":121.5,"height":75,"title":"Length 10","data":{"values":[]},"mark":"point","encoding":{}},

{"width":64,"height":75,"title":{"text":"Statistical biases","offset":163.5,"fontSize":21,"dx":242},"data":{"values":[{}]},"mark":{"type":"text","align":"right","dx":35,"fontSize":17,"fontWeight":"bold","lineHeight":21},"encoding":{"text":{"value":["Repetition","bias"]}}},
{"width":126,"height":75,"transform":[{"filter":"datum.p=='rh'"}],"layer":[
{"transform":[{"filter":"datum.x==0"}],"mark":{"type":"rule","color":"#b8b8b8","strokeDash":[5,3],"strokeWidth":1},"encoding":{"y":{"datum":0.5}}},
{"mark":{"type":"line","color":"#5fc6da"},"encoding":{"x":{"field":"x","type":"quantitative","scale":{"domain":[0,60]},"axis":{"values":[0,60],"title":null,"domainColor":"#555555","labelExpr":"datum.value==0?'⬑Change':'60'","labelAlign":{"condition":{"test":"datum.value==0","value":"left"},"value":"center"},"labelFontStyle":{"condition":{"test":"datum.value==0","value":"italic"},"value":"normal"}}},"y":{"field":"L","type":"quantitative","scale":{"domain":[0,1]},"axis":{"orient":"right","values":[0,0.5,1],"format":"~g","title":null,"domainColor":"#4b9cd8","labelColor":"#4b9cd8"}}}},
{"mark":{"type":"line","color":"#8787c9"},"encoding":{"x":{"field":"x","type":"quantitative"},"y":{"field":"S","type":"quantitative"}}},
{"mark":{"type":"line","color":"#d67ec4"},"encoding":{"x":{"field":"x","type":"quantitative"},"y":{"field":"M","type":"quantitative"}}},
{"mark":{"type":"line","color":"#111111"},"encoding":{"x":{"field":"x","type":"quantitative"},"y":{"field":"N","type":"quantitative"}}},
{"transform":[{"filter":"datum.x==0"}],"mark":{"type":"text","align":"left"},"encoding":{"x":{"datum":0.5},"y":{"datum":0.9},"text":{"value":"{1/3,1/3}"}}},
{"transform":[{"filter":"datum.x==0"}],"mark":{"type":"text","align":"left"},"encoding":{"x":{"datum":0.5},"y":{"datum":0.72},"text":{"value":"Hₜₚ = 1.92"}}}]},
{"width":126,"height":75,"transform":[{"filter":"datum.p=='rm'"}],"layer":[
{"transform":[{"filter":"datum.x==0"}],"mark":{"type":"rule","color":"#b8b8b8","strokeDash":[5,3],"strokeWidth":1},"encoding":{"y":{"datum":0.5}}},
{"mark":{"type":"line","color":"#5fc6da"},"encoding":{"x":{"field":"x","type":"quantitative","scale":{"domain":[0,60]},"axis":{"values":[0,60],"title":null,"domainColor":"#555555","labelExpr":"datum.value==0?'⬑Change':'60'","labelAlign":{"condition":{"test":"datum.value==0","value":"left"},"value":"center"},"labelFontStyle":{"condition":{"test":"datum.value==0","value":"italic"},"value":"normal"}}},"y":{"field":"L","type":"quantitative","scale":{"domain":[0,1]},"axis":{"orient":"right","values":[0,0.5,1],"format":"~g","title":null,"domainColor":"#4b9cd8","labelColor":"#4b9cd8"}}}},
{"mark":{"type":"line","color":"#8787c9"},"encoding":{"x":{"field":"x","type":"quantitative"},"y":{"field":"S","type":"quantitative"}}},
{"mark":{"type":"line","color":"#d67ec4"},"encoding":{"x":{"field":"x","type":"quantitative"},"y":{"field":"M","type":"quantitative"}}},
{"mark":{"type":"line","color":"#111111"},"encoding":{"x":{"field":"x","type":"quantitative"},"y":{"field":"N","type":"quantitative"}}},
{"transform":[{"filter":"datum.x==0"}],"mark":{"type":"text","align":"left"},"encoding":{"x":{"datum":0.5},"y":{"datum":0.9},"text":{"value":"{1/4,1/4}"}}},
{"transform":[{"filter":"datum.x==0"}],"mark":{"type":"text","align":"left"},"encoding":{"x":{"datum":0.5},"y":{"datum":0.72},"text":{"value":"Hₜₚ = 1.81"}}}]},
{"width":126,"height":75,"transform":[{"filter":"datum.p=='rl'"}],"layer":[
{"transform":[{"filter":"datum.x==0"}],"mark":{"type":"rule","color":"#b8b8b8","strokeDash":[5,3],"strokeWidth":1},"encoding":{"y":{"datum":0.5}}},
{"mark":{"type":"line","color":"#5fc6da"},"encoding":{"x":{"field":"x","type":"quantitative","scale":{"domain":[0,60]},"axis":{"values":[0,60],"title":null,"domainColor":"#555555","labelExpr":"datum.value==0?'⬑Change':'60'","labelAlign":{"condition":{"test":"datum.value==0","value":"left"},"value":"center"},"labelFontStyle":{"condition":{"test":"datum.value==0","value":"italic"},"value":"normal"}}},"y":{"field":"L","type":"quantitative","scale":{"domain":[0,1]},"axis":{"orient":"right","values":[0,0.5,1],"format":"~g","title":null,"domainColor":"#4b9cd8","labelColor":"#4b9cd8"}}}},
{"mark":{"type":"line","color":"#8787c9"},"encoding":{"x":{"field":"x","type":"quantitative"},"y":{"field":"S","type":"quantitative"}}},
{"mark":{"type":"line","color":"#d67ec4"},"encoding":{"x":{"field":"x","type":"quantitative"},"y":{"field":"M","type":"quantitative"}}},
{"mark":{"type":"line","color":"#111111"},"encoding":{"x":{"field":"x","type":"quantitative"},"y":{"field":"N","type":"quantitative"}}},
{"transform":[{"filter":"datum.x==0"}],"mark":{"type":"text","align":"left"},"encoding":{"x":{"datum":0.5},"y":{"datum":0.9},"text":{"value":"{1/5,1/5}"}}},
{"transform":[{"filter":"datum.x==0"}],"mark":{"type":"text","align":"left"},"encoding":{"x":{"datum":0.5},"y":{"datum":0.72},"text":{"value":"Hₜₚ = 1.72"}}}]},
{"width":10,"height":75,"title":{"text":"Deterministic rules","offset":163.5,"fontSize":21,"dx":327},"data":{"values":[]},"mark":"point","encoding":{}},
{"width":121.5,"height":75,"data":{"values":[]},"mark":"point","encoding":{}},
{"width":121.5,"height":75,"transform":[{"filter":"datum.p=='b6r2'"}],"layer":[
{"transform":[{"filter":"datum.x==0"}],"mark":{"type":"rule","color":"#b8b8b8","strokeDash":[5,3],"strokeWidth":1},"encoding":{"y":{"datum":0.5}}},
{"mark":{"type":"line","color":"#5fc6da"},"encoding":{"x":{"field":"x","type":"quantitative","scale":{"domain":[0,60]},"axis":{"values":[0,60],"title":null,"domainColor":"#555555","labelExpr":"datum.value==0?'⬑Change':'60'","labelAlign":{"condition":{"test":"datum.value==0","value":"left"},"value":"center"},"labelFontStyle":{"condition":{"test":"datum.value==0","value":"italic"},"value":"normal"}}},"y":{"field":"L","type":"quantitative","scale":{"domain":[0,1]},"axis":{"orient":"left","values":[0,0.5,1],"format":"~g","title":null,"domainColor":"#e8332f","labelColor":"#e8332f"}}}},
{"mark":{"type":"line","color":"#8787c9"},"encoding":{"x":{"field":"x","type":"quantitative"},"y":{"field":"S","type":"quantitative"}}},
{"mark":{"type":"line","color":"#d67ec4"},"encoding":{"x":{"field":"x","type":"quantitative"},"y":{"field":"M","type":"quantitative"}}},
{"mark":{"type":"line","color":"#111111","strokeDash":[4,2]},"encoding":{"x":{"field":"x","type":"quantitative"},"y":{"field":"N","type":"quantitative"}}},
{"transform":[{"filter":"datum.x==0"}],"mark":{"type":"text","align":"right"},"encoding":{"x":{"datum":60},"y":{"datum":0.32},"text":{"value":"AAABBB"}}},
{"transform":[{"filter":"datum.x==0"}],"mark":{"type":"text","align":"right"},"encoding":{"x":{"datum":60},"y":{"datum":0.12},"text":{"value":"Hₜₚ = 1.92"}}}]},
{"width":121.5,"height":75,"transform":[{"filter":"datum.p=='b8r2'"}],"layer":[
{"transform":[{"filter":"datum.x==0"}],"mark":{"type":"rule","color":"#b8b8b8","strokeDash":[5,3],"strokeWidth":1},"encoding":{"y":{"datum":0.5}}},
{"mark":{"type":"line","color":"#5fc6da"},"encoding":{"x":{"field":"x","type":"quantitative","scale":{"domain":[0,60]},"axis":{"values":[0,60],"title":null,"domainColor":"#555555","labelExpr":"datum.value==0?'⬑Change':'60'","labelAlign":{"condition":{"test":"datum.value==0","value":"left"},"value":"center"},"labelFontStyle":{"condition":{"test":"datum.value==0","value":"italic"},"value":"normal"}}},"y":{"field":"L","type":"quantitative","scale":{"domain":[0,1]},"axis":{"orient":"left","values":[0,0.5,1],"format":"~g","title":null,"domainColor":"#e8332f","labelColor":"#e8332f"}}}},
{"mark":{"type":"line","color":"#8787c9"},"encoding":{"x":{"field":"x","type":"quantitative"},"y":{"field":"S","type":"quantitative"}}},
{"mark":{"type":"line","color":"#d67ec4"},"encoding":{"x":{"field":"x","type":"quantitative"},"y":{"field":"M","type":"quantitative"}}},
{"mark":{"type":"line","color":"#111111","strokeDash":[4,2]},"encoding":{"x":{"field":"x","type":"quantitative"},"y":{"field":"N","type":"quantitative"}}},
{"transform":[{"filter":"datum.x==0"}],"mark":{"type":"text","align":"right"},"encoding":{"x":{"datum":60},"y":{"datum":0.32},"text":{"value":"AAAABBBB"}}},
{"transform":[{"filter":"datum.x==0"}],"mark":{"type":"text","align":"right"},"encoding":{"x":{"datum":60},"y":{"datum":0.12},"text":{"value":"Hₜₚ = 1.81"}}}]},
{"width":121.5,"height":75,"transform":[{"filter":"datum.p=='b10r2'"}],"layer":[
{"transform":[{"filter":"datum.x==0"}],"mark":{"type":"rule","color":"#b8b8b8","strokeDash":[5,3],"strokeWidth":1},"encoding":{"y":{"datum":0.5}}},
{"mark":{"type":"line","color":"#5fc6da"},"encoding":{"x":{"field":"x","type":"quantitative","scale":{"domain":[0,60]},"axis":{"values":[0,60],"title":null,"domainColor":"#555555","labelExpr":"datum.value==0?'⬑Change':'60'","labelAlign":{"condition":{"test":"datum.value==0","value":"left"},"value":"center"},"labelFontStyle":{"condition":{"test":"datum.value==0","value":"italic"},"value":"normal"}}},"y":{"field":"L","type":"quantitative","scale":{"domain":[0,1]},"axis":{"orient":"left","values":[0,0.5,1],"format":"~g","title":null,"domainColor":"#e8332f","labelColor":"#e8332f"}}}},
{"mark":{"type":"line","color":"#8787c9"},"encoding":{"x":{"field":"x","type":"quantitative"},"y":{"field":"S","type":"quantitative"}}},
{"mark":{"type":"line","color":"#d67ec4"},"encoding":{"x":{"field":"x","type":"quantitative"},"y":{"field":"M","type":"quantitative"}}},
{"mark":{"type":"line","color":"#111111","strokeDash":[4,2]},"encoding":{"x":{"field":"x","type":"quantitative"},"y":{"field":"N","type":"quantitative"}}},
{"transform":[{"filter":"datum.x==0"}],"mark":{"type":"text","align":"right"},"encoding":{"x":{"datum":60},"y":{"datum":0.32},"text":{"value":"AAAAABBBBB"}}},
{"transform":[{"filter":"datum.x==0"}],"mark":{"type":"text","align":"right"},"encoding":{"x":{"datum":60},"y":{"datum":0.12},"text":{"value":"Hₜₚ = 1.72"}}}]},

{"width":64,"height":75,"data":{"values":[{}]},"mark":{"type":"text","align":"right","dx":35,"fontSize":17,"fontWeight":"bold","lineHeight":21},"encoding":{"text":{"value":["Alternation","bias"]}}},
{"width":126,"height":75,"transform":[{"filter":"datum.p=='ah'"}],"layer":[
{"transform":[{"filter":"datum.x==0"}],"mark":{"type":"rule","color":"#b8b8b8","strokeDash":[5,3],"strokeWidth":1},"encoding":{"y":{"datum":0.5}}},
{"mark":{"type":"line","color":"#5fc6da"},"encoding":{"x":{"field":"x","type":"quantitative","scale":{"domain":[0,60]},"axis":{"values":[0,60],"title":null,"domainColor":"#555555","labelExpr":"datum.value==0?'⬑Change':'60'","labelAlign":{"condition":{"test":"datum.value==0","value":"left"},"value":"center"},"labelFontStyle":{"condition":{"test":"datum.value==0","value":"italic"},"value":"normal"}}},"y":{"field":"L","type":"quantitative","scale":{"domain":[0,1]},"axis":{"orient":"right","values":[0,0.5,1],"format":"~g","title":null,"domainColor":"#4b9cd8","labelColor":"#4b9cd8"}}}},
{"mark":{"type":"line","color":"#8787c9"},"encoding":{"x":{"field":"x","type":"quantitative"},"y":{"field":"S","type":"quantitative"}}},
{"mark":{"type":"line","color":"#d67ec4"},"encoding":{"x":{"field":"x","type":"quantitative"},"y":{"field":"M","type":"quantitative"}}},
{"mark":{"type":"line","color":"#111111"},"encoding":{"x":{"field":"x","type":"quantitative"},"y":{"field":"N","type":"quantitative"}}},
{"transform":[{"filter":"datum.x==0"}],"mark":{"type":"text","align":"left"},"encoding":{"x":{"datum":0.5},"y":{"datum":0.9},"text":{"value":"{2/3,2/3}"}}},
{"transform":[{"filter":"datum.x==0"}],"mark":{"type":"text","align":"left"},"encoding":{"x":{"datum":0.5},"y":{"datum":0.72},"text":{"value":"Hₜₚ = 1.92"}}}]},
{"width":126,"height":75,"transform":[{"filter":"datum.p=='am'"}],"layer":[
{"transform":[{"filter":"datum.x==0"}],"mark":{"type":"rule","color":"#b8b8b8","strokeDash":[5,3],"strokeWidth":1},"encoding":{"y":{"datum":0.5}}},
{"mark":{"type":"line","color":"#5fc6da"},"encoding":{"x":{"field":"x","type":"quantitative","scale":{"domain":[0,60]},"axis":{"values":[0,60],"title":null,"domainColor":"#555555","labelExpr":"datum.value==0?'⬑Change':'60'","labelAlign":{"condition":{"test":"datum.value==0","value":"left"},"value":"center"},"labelFontStyle":{"condition":{"test":"datum.value==0","value":"italic"},"value":"normal"}}},"y":{"field":"L","type":"quantitative","scale":{"domain":[0,1]},"axis":{"orient":"right","values":[0,0.5,1],"format":"~g","title":null,"domainColor":"#4b9cd8","labelColor":"#4b9cd8"}}}},
{"mark":{"type":"line","color":"#8787c9"},"encoding":{"x":{"field":"x","type":"quantitative"},"y":{"field":"S","type":"quantitative"}}},
{"mark":{"type":"line","color":"#d67ec4"},"encoding":{"x":{"field":"x","type":"quantitative"},"y":{"field":"M","type":"quantitative"}}},
{"mark":{"type":"line","color":"#111111"},"encoding":{"x":{"field":"x","type":"quantitative"},"y":{"field":"N","type":"quantitative"}}},
{"transform":[{"filter":"datum.x==0"}],"mark":{"type":"text","align":"left"},"encoding":{"x":{"datum":0.5},"y":{"datum":0.9},"text":{"value":"{3/4,3/4}"}}},
{"transform":[{"filter":"datum.x==0"}],"mark":{"type":"text","align":"left"},"encoding":{"x":{"datum":0.5},"y":{"datum":0.72},"text":{"value":"Hₜₚ = 1.81"}}}]},
{"width":126,"height":75,"transform":[{"filter":"datum.p=='al'"}],"layer":[
{"transform":[{"filter":"datum.x==0"}],"mark":{"type":"rule","color":"#b8b8b8","strokeDash":[5,3],"strokeWidth":1},"encoding":{"y":{"datum":0.5}}},
{"mark":{"type":"line","color":"#5fc6da"},"encoding":{"x":{"field":"x","type":"quantitative","scale":{"domain":[0,60]},"axis":{"values":[0,60],"title":null,"domainColor":"#555555","labelExpr":"datum.value==0?'⬑Change':'60'","labelAlign":{"condition":{"test":"datum.value==0","value":"left"},"value":"center"},"labelFontStyle":{"condition":{"test":"datum.value==0","value":"italic"},"value":"normal"}}},"y":{"field":"L","type":"quantitative","scale":{"domain":[0,1]},"axis":{"orient":"right","values":[0,0.5,1],"format":"~g","title":null,"domainColor":"#4b9cd8","labelColor":"#4b9cd8"}}}},
{"mark":{"type":"line","color":"#8787c9"},"encoding":{"x":{"field":"x","type":"quantitative"},"y":{"field":"S","type":"quantitative"}}},
{"mark":{"type":"line","color":"#d67ec4"},"encoding":{"x":{"field":"x","type":"quantitative"},"y":{"field":"M","type":"quantitative"}}},
{"mark":{"type":"line","color":"#111111"},"encoding":{"x":{"field":"x","type":"quantitative"},"y":{"field":"N","type":"quantitative"}}},
{"transform":[{"filter":"datum.x==0"}],"mark":{"type":"text","align":"left"},"encoding":{"x":{"datum":0.5},"y":{"datum":0.9},"text":{"value":"{4/5,4/5}"}}},
{"transform":[{"filter":"datum.x==0"}],"mark":{"type":"text","align":"left"},"encoding":{"x":{"datum":0.5},"y":{"datum":0.72},"text":{"value":"Hₜₚ = 1.72"}}}]},
{"width":10,"height":75,"data":{"values":[]},"mark":"point","encoding":{}},
{"width":121.5,"height":75,"layer":[
{"data":{"values":[{"n":"Normative"}]},"mark":"line","encoding":{"strokeDash":{"field":"n","type":"nominal","scale":{"domain":["Normative"],"range":[[4,2]]},"legend":{"title":"Models","orient":"none","legendX":-36,"legendY":-27,"titleFontSize":18,"titleFontWeight":"bold","titlePadding":12,"labelFontSize":15,"labelExpr":"['Normative','two-system']","labelBaseline":"alphabetic","labelOffset":4,"symbolSize":245,"symbolStrokeColor":"#222222","symbolStrokeWidth":1.3,"padding":0}}}},
{"data":{"values":[{"c":"Maximum"},{"c":"Sigmoid (β = 10)"},{"c":"Linear"}]},"mark":"line","encoding":{"color":{"field":"c","type":"nominal","sort":null,"scale":{"domain":["Maximum","Sigmoid (β = 10)","Linear"],"range":["#d67ec4","#8787c9","#5fc6da"]},"legend":{"title":["Non-commensurable","two-system"],"orient":"none","legendX":-16,"legendY":46,"titleFontSize":15,"titleFontWeight":"normal","titleLineHeight":18,"titlePadding":5,"labelFontSize":12.5,"symbolSize":177,"symbolStrokeWidth":1.6,"labelOffset":5,"rowPadding":2.5,"padding":0,"titleLimit":300}}}}
]},
{"width":121.5,"height":75,"transform":[{"filter":"datum.p=='b6r3'"}],"layer":[
{"transform":[{"filter":"datum.x==0"}],"mark":{"type":"rule","color":"#b8b8b8","strokeDash":[5,3],"strokeWidth":1},"encoding":{"y":{"datum":0.5}}},
{"mark":{"type":"line","color":"#5fc6da"},"encoding":{"x":{"field":"x","type":"quantitative","scale":{"domain":[0,60]},"axis":{"values":[0,60],"title":null,"domainColor":"#555555","labelExpr":"datum.value==0?'⬑Change':'60'","labelAlign":{"condition":{"test":"datum.value==0","value":"left"},"value":"center"},"labelFontStyle":{"condition":{"test":"datum.value==0","value":"italic"},"value":"normal"}}},"y":{"field":"L","type":"quantitative","scale":{"domain":[0,1]},"axis":{"orient":"left","values":[0,0.5,1],"format":"~g","title":null,"domainColor":"#e8332f","labelColor":"#e8332f"}}}},
{"mark":{"type":"line","color":"#8787c9"},"encoding":{"x":{"field":"x","type":"quantitative"},"y":{"field":"S","type":"quantitative"}}},
{"mark":{"type":"line","color":"#d67ec4"},"encoding":{"x":{"field":"x","type":"quantitative"},"y":{"field":"M","type":"quantitative"}}},
{"mark":{"type":"line","color":"#111111","strokeDash":[4,2]},"encoding":{"x":{"field":"x","type":"quantitative"},"y":{"field":"N","type":"quantitative"}}},
{"transform":[{"filter":"datum.x==0"}],"mark":{"type":"text","align":"right"},"encoding":{"x":{"datum":60},"y":{"datum":0.32},"text":{"value":"AABABB"}}},
{"transform":[{"filter":"datum.x==0"}],"mark":{"type":"text","align":"right"},"encoding":{"x":{"datum":60},"y":{"datum":0.12},"text":{"value":"Hₜₚ = 1.92"}}}]},
{"width":121.5,"height":75,"transform":[{"filter":"datum.p=='b8r3'"}],"layer":[
{"transform":[{"filter":"datum.x==0"}],"mark":{"type":"rule","color":"#b8b8b8","strokeDash":[5,3],"strokeWidth":1},"encoding":{"y":{"datum":0.5}}},
{"mark":{"type":"line","color":"#5fc6da"},"encoding":{"x":{"field":"x","type":"quantitative","scale":{"domain":[0,60]},"axis":{"values":[0,60],"title":null,"domainColor":"#555555","labelExpr":"datum.value==0?'⬑Change':'60'","labelAlign":{"condition":{"test":"datum.value==0","value":"left"},"value":"center"},"labelFontStyle":{"condition":{"test":"datum.value==0","value":"italic"},"value":"normal"}}},"y":{"field":"L","type":"quantitative","scale":{"domain":[0,1]},"axis":{"orient":"left","values":[0,0.5,1],"format":"~g","title":null,"domainColor":"#e8332f","labelColor":"#e8332f"}}}},
{"mark":{"type":"line","color":"#8787c9"},"encoding":{"x":{"field":"x","type":"quantitative"},"y":{"field":"S","type":"quantitative"}}},
{"mark":{"type":"line","color":"#d67ec4"},"encoding":{"x":{"field":"x","type":"quantitative"},"y":{"field":"M","type":"quantitative"}}},
{"mark":{"type":"line","color":"#111111","strokeDash":[4,2]},"encoding":{"x":{"field":"x","type":"quantitative"},"y":{"field":"N","type":"quantitative"}}},
{"transform":[{"filter":"datum.x==0"}],"mark":{"type":"text","align":"right"},"encoding":{"x":{"datum":60},"y":{"datum":0.32},"text":{"value":"AABABABB"}}},
{"transform":[{"filter":"datum.x==0"}],"mark":{"type":"text","align":"right"},"encoding":{"x":{"datum":60},"y":{"datum":0.12},"text":{"value":"Hₜₚ = 1.81"}}}]},
{"width":121.5,"height":75,"transform":[{"filter":"datum.p=='b10r3'"}],"layer":[
{"transform":[{"filter":"datum.x==0"}],"mark":{"type":"rule","color":"#b8b8b8","strokeDash":[5,3],"strokeWidth":1},"encoding":{"y":{"datum":0.5}}},
{"mark":{"type":"line","color":"#5fc6da"},"encoding":{"x":{"field":"x","type":"quantitative","scale":{"domain":[0,60]},"axis":{"values":[0,60],"title":null,"domainColor":"#555555","labelExpr":"datum.value==0?'⬑Change':'60'","labelAlign":{"condition":{"test":"datum.value==0","value":"left"},"value":"center"},"labelFontStyle":{"condition":{"test":"datum.value==0","value":"italic"},"value":"normal"}}},"y":{"field":"L","type":"quantitative","scale":{"domain":[0,1]},"axis":{"orient":"left","values":[0,0.5,1],"format":"~g","title":null,"domainColor":"#e8332f","labelColor":"#e8332f"}}}},
{"mark":{"type":"line","color":"#8787c9"},"encoding":{"x":{"field":"x","type":"quantitative"},"y":{"field":"S","type":"quantitative"}}},
{"mark":{"type":"line","color":"#d67ec4"},"encoding":{"x":{"field":"x","type":"quantitative"},"y":{"field":"M","type":"quantitative"}}},
{"mark":{"type":"line","color":"#111111","strokeDash":[4,2]},"encoding":{"x":{"field":"x","type":"quantitative"},"y":{"field":"N","type":"quantitative"}}},
{"transform":[{"filter":"datum.x==0"}],"mark":{"type":"text","align":"right"},"encoding":{"x":{"datum":60},"y":{"datum":0.32},"text":{"value":"AABABABABB"}}},
{"transform":[{"filter":"datum.x==0"}],"mark":{"type":"text","align":"right"},"encoding":{"x":{"datum":60},"y":{"datum":0.12},"text":{"value":"Hₜₚ = 1.72"}}}]},

{"width":64,"height":75,"data":{"values":[{}]},"mark":{"type":"text","align":"right","dx":35,"fontSize":17,"fontWeight":"bold","lineHeight":21},"encoding":{"text":{"value":["Frequency","bias"]}}},
{"width":126,"height":75,"transform":[{"filter":"datum.p=='fh'"}],"layer":[
{"transform":[{"filter":"datum.x==0"}],"mark":{"type":"rule","color":"#b8b8b8","strokeDash":[5,3],"strokeWidth":1},"encoding":{"y":{"datum":0.5}}},
{"mark":{"type":"line","color":"#5fc6da"},"encoding":{"x":{"field":"x","type":"quantitative","scale":{"domain":[0,60]},"axis":{"values":[0,60],"title":null,"domainColor":"#555555","labelExpr":"datum.value==0?'⬑Change':'60'","labelAlign":{"condition":{"test":"datum.value==0","value":"left"},"value":"center"},"labelFontStyle":{"condition":{"test":"datum.value==0","value":"italic"},"value":"normal"}}},"y":{"field":"L","type":"quantitative","scale":{"domain":[0,1]},"axis":{"orient":"right","values":[0,0.5,1],"format":"~g","title":null,"domainColor":"#4b9cd8","labelColor":"#4b9cd8"}}}},
{"mark":{"type":"line","color":"#8787c9"},"encoding":{"x":{"field":"x","type":"quantitative"},"y":{"field":"S","type":"quantitative"}}},
{"mark":{"type":"line","color":"#d67ec4"},"encoding":{"x":{"field":"x","type":"quantitative"},"y":{"field":"M","type":"quantitative"}}},
{"mark":{"type":"line","color":"#111111"},"encoding":{"x":{"field":"x","type":"quantitative"},"y":{"field":"N","type":"quantitative"}}},
{"transform":[{"filter":"datum.x==0"}],"mark":{"type":"text","align":"left"},"encoding":{"x":{"datum":0.5},"y":{"datum":0.9},"text":{"value":"{2/3,1/3}"}}},
{"transform":[{"filter":"datum.x==0"}],"mark":{"type":"text","align":"left"},"encoding":{"x":{"datum":0.5},"y":{"datum":0.72},"text":{"value":"Hₜₚ = 1.84"}}}]},
{"width":126,"height":75,"transform":[{"filter":"datum.p=='fm'"}],"layer":[
{"transform":[{"filter":"datum.x==0"}],"mark":{"type":"rule","color":"#b8b8b8","strokeDash":[5,3],"strokeWidth":1},"encoding":{"y":{"datum":0.5}}},
{"mark":{"type":"line","color":"#5fc6da"},"encoding":{"x":{"field":"x","type":"quantitative","scale":{"domain":[0,60]},"axis":{"values":[0,60],"title":null,"domainColor":"#555555","labelExpr":"datum.value==0?'⬑Change':'60'","labelAlign":{"condition":{"test":"datum.value==0","value":"left"},"value":"center"},"labelFontStyle":{"condition":{"test":"datum.value==0","value":"italic"},"value":"normal"}}},"y":{"field":"L","type":"quantitative","scale":{"domain":[0,1]},"axis":{"orient":"right","values":[0,0.5,1],"format":"~g","title":null,"domainColor":"#4b9cd8","labelColor":"#4b9cd8"}}}},
{"mark":{"type":"line","color":"#8787c9"},"encoding":{"x":{"field":"x","type":"quantitative"},"y":{"field":"S","type":"quantitative"}}},
{"mark":{"type":"line","color":"#d67ec4"},"encoding":{"x":{"field":"x","type":"quantitative"},"y":{"field":"M","type":"quantitative"}}},
{"mark":{"type":"line","color":"#111111"},"encoding":{"x":{"field":"x","type":"quantitative"},"y":{"field":"N","type":"quantitative"}}},
{"transform":[{"filter":"datum.x==0"}],"mark":{"type":"text","align":"left"},"encoding":{"x":{"datum":0.5},"y":{"datum":0.9},"text":{"value":"{3/4,1/4}"}}},
{"transform":[{"filter":"datum.x==0"}],"mark":{"type":"text","align":"left"},"encoding":{"x":{"datum":0.5},"y":{"datum":0.72},"text":{"value":"Hₜₚ = 1.62"}}}]},
{"width":126,"height":75,"transform":[{"filter":"datum.p=='fl'"}],"layer":[
{"transform":[{"filter":"datum.x==0"}],"mark":{"type":"rule","color":"#b8b8b8","strokeDash":[5,3],"strokeWidth":1},"encoding":{"y":{"datum":0.5}}},
{"mark":{"type":"line","color":"#5fc6da"},"encoding":{"x":{"field":"x","type":"quantitative","scale":{"domain":[0,60]},"axis":{"values":[0,60],"title":null,"domainColor":"#555555","labelExpr":"datum.value==0?'⬑Change':'60'","labelAlign":{"condition":{"test":"datum.value==0","value":"left"},"value":"center"},"labelFontStyle":{"condition":{"test":"datum.value==0","value":"italic"},"value":"normal"}}},"y":{"field":"L","type":"quantitative","scale":{"domain":[0,1]},"axis":{"orient":"right","values":[0,0.5,1],"format":"~g","title":null,"domainColor":"#4b9cd8","labelColor":"#4b9cd8"}}}},
{"mark":{"type":"line","color":"#8787c9"},"encoding":{"x":{"field":"x","type":"quantitative"},"y":{"field":"S","type":"quantitative"}}},
{"mark":{"type":"line","color":"#d67ec4"},"encoding":{"x":{"field":"x","type":"quantitative"},"y":{"field":"M","type":"quantitative"}}},
{"mark":{"type":"line","color":"#111111"},"encoding":{"x":{"field":"x","type":"quantitative"},"y":{"field":"N","type":"quantitative"}}},
{"transform":[{"filter":"datum.x==0"}],"mark":{"type":"text","align":"left"},"encoding":{"x":{"datum":0.5},"y":{"datum":0.9},"text":{"value":"{4/5,1/5}"}}},
{"transform":[{"filter":"datum.x==0"}],"mark":{"type":"text","align":"left"},"encoding":{"x":{"datum":0.5},"y":{"datum":0.72},"text":{"value":"Hₜₚ = 1.44"}}}]},
{"width":10,"height":75,"data":{"values":[]},"mark":"point","encoding":{}},
{"width":121.5,"height":75,"data":{"values":[]},"mark":"point","encoding":{}},
{"width":121.5,"height":75,"data":{"values":[]},"mark":"point","encoding":{}},
{"width":121.5,"height":75,"data":{"values":[]},"mark":"point","encoding":{}},
{"width":121.5,"height":75,"data":{"values":[]},"mark":"point","encoding":{}},

{"width":64,"height":75,"data":{"values":[{}]},"mark":{"type":"text","align":"right","dx":35,"fontSize":17,"fontWeight":"bold","lineHeight":21},"encoding":{"text":{"value":["Frequency","bias outside","frequency","diagonal"]}}},
{"width":126,"height":75,"transform":[{"filter":"datum.p=='oh'"}],"layer":[
{"transform":[{"filter":"datum.x==0"}],"mark":{"type":"rule","color":"#b8b8b8","strokeDash":[5,3],"strokeWidth":1},"encoding":{"y":{"datum":0.5}}},
{"mark":{"type":"line","color":"#5fc6da"},"encoding":{"x":{"field":"x","type":"quantitative","scale":{"domain":[0,60]},"axis":{"values":[0,60],"title":null,"domainColor":"#555555","labelExpr":"datum.value==0?'⬑Change':'60'","labelAlign":{"condition":{"test":"datum.value==0","value":"left"},"value":"center"},"labelFontStyle":{"condition":{"test":"datum.value==0","value":"italic"},"value":"normal"}}},"y":{"field":"L","type":"quantitative","scale":{"domain":[0,1]},"axis":{"orient":"right","values":[0,0.5,1],"format":"~g","title":null,"domainColor":"#4b9cd8","labelColor":"#4b9cd8"}}}},
{"mark":{"type":"line","color":"#8787c9"},"encoding":{"x":{"field":"x","type":"quantitative"},"y":{"field":"S","type":"quantitative"}}},
{"mark":{"type":"line","color":"#d67ec4"},"encoding":{"x":{"field":"x","type":"quantitative"},"y":{"field":"M","type":"quantitative"}}},
{"mark":{"type":"line","color":"#111111"},"encoding":{"x":{"field":"x","type":"quantitative"},"y":{"field":"N","type":"quantitative"}}},
{"transform":[{"filter":"datum.x==0"}],"mark":{"type":"text","align":"left"},"encoding":{"x":{"datum":0.5},"y":{"datum":0.9},"text":{"value":"{3/4,1/2}"}}},
{"transform":[{"filter":"datum.x==0"}],"mark":{"type":"text","align":"left"},"encoding":{"x":{"datum":0.5},"y":{"datum":0.72},"text":{"value":"Hₜₚ = 1.90"}}}]},
{"width":126,"height":75,"transform":[{"filter":"datum.p=='om'"}],"layer":[
{"transform":[{"filter":"datum.x==0"}],"mark":{"type":"rule","color":"#b8b8b8","strokeDash":[5,3],"strokeWidth":1},"encoding":{"y":{"datum":0.5}}},
{"mark":{"type":"line","color":"#5fc6da"},"encoding":{"x":{"field":"x","type":"quantitative","scale":{"domain":[0,60]},"axis":{"values":[0,60],"title":["Observation number with","respect to change point position"],"titleFontSize":14.3,"titleFontWeight":"normal","titlePadding":3,"titleLineHeight":18,"domainColor":"#555555","labelExpr":"datum.value==0?'⬑Change':'60'","labelAlign":{"condition":{"test":"datum.value==0","value":"left"},"value":"center"},"labelFontStyle":{"condition":{"test":"datum.value==0","value":"italic"},"value":"normal"}}},"y":{"field":"L","type":"quantitative","scale":{"domain":[0,1]},"axis":{"orient":"right","values":[0,0.5,1],"format":"~g","title":["Posterior","probability","p (ℋₛₜₐₜ|seq)"],"titleColor":"#58a5dc","titleFontSize":15,"titleFontWeight":"normal","titleAngle":0,"titleAlign":"left","titleBaseline":"top","titleX":29,"titleY":-7,"titleLineHeight":18,"domainColor":"#4b9cd8","labelColor":"#4b9cd8"}}}},
{"mark":{"type":"line","color":"#8787c9"},"encoding":{"x":{"field":"x","type":"quantitative"},"y":{"field":"S","type":"quantitative"}}},
{"mark":{"type":"line","color":"#d67ec4"},"encoding":{"x":{"field":"x","type":"quantitative"},"y":{"field":"M","type":"quantitative"}}},
{"mark":{"type":"line","color":"#111111"},"encoding":{"x":{"field":"x","type":"quantitative"},"y":{"field":"N","type":"quantitative"}}},
{"transform":[{"filter":"datum.x==0"}],"mark":{"type":"text","align":"left"},"encoding":{"x":{"datum":0.5},"y":{"datum":0.9},"text":{"value":"{1/2,1/4}"}}},
{"transform":[{"filter":"datum.x==0"}],"mark":{"type":"text","align":"left"},"encoding":{"x":{"datum":0.5},"y":{"datum":0.72},"text":{"value":"Hₜₚ = 1.79"}}}]},
{"width":126,"height":75,"data":{"values":[]},"mark":"point","encoding":{}},
{"width":10,"height":75,"data":{"values":[]},"mark":"point","encoding":{}},
{"width":121.5,"height":75,"data":{"values":[]},"mark":"point","encoding":{}},
{"width":121.5,"height":75,"transform":[{"filter":"datum.p=='b6r5'"}],"layer":[
{"transform":[{"filter":"datum.x==0"}],"mark":{"type":"rule","color":"#b8b8b8","strokeDash":[5,3],"strokeWidth":1},"encoding":{"y":{"datum":0.5}}},
{"mark":{"type":"line","color":"#5fc6da"},"encoding":{"x":{"field":"x","type":"quantitative","scale":{"domain":[0,60]},"axis":{"values":[0,60],"title":["Observation number with","respect to change point position"],"titleFontSize":14.3,"titleFontWeight":"normal","titlePadding":3,"titleLineHeight":18,"domainColor":"#555555","labelExpr":"datum.value==0?'⬑Change':'60'","labelAlign":{"condition":{"test":"datum.value==0","value":"left"},"value":"center"},"labelFontStyle":{"condition":{"test":"datum.value==0","value":"italic"},"value":"normal"}}},"y":{"field":"L","type":"quantitative","scale":{"domain":[0,1]},"axis":{"orient":"left","values":[0,0.5,1],"format":"~g","title":["Posterior","probability","p (ℋᵣᵤₗₑ|seq)"],"titleColor":"#e8332f","titleFontSize":15,"titleFontWeight":"normal","titleAngle":0,"titleAlign":"right","titleBaseline":"top","titleX":-31,"titleY":-7,"titleLineHeight":18,"domainColor":"#e8332f","labelColor":"#e8332f"}}}},
{"mark":{"type":"line","color":"#8787c9"},"encoding":{"x":{"field":"x","type":"quantitative"},"y":{"field":"S","type":"quantitative"}}},
{"mark":{"type":"line","color":"#d67ec4"},"encoding":{"x":{"field":"x","type":"quantitative"},"y":{"field":"M","type":"quantitative"}}},
{"mark":{"type":"line","color":"#111111","strokeDash":[4,2]},"encoding":{"x":{"field":"x","type":"quantitative"},"y":{"field":"N","type":"quantitative"}}},
{"transform":[{"filter":"datum.x==0"}],"mark":{"type":"text","align":"right"},"encoding":{"x":{"datum":60},"y":{"datum":0.32},"text":{"value":"AABABB"}}},
{"transform":[{"filter":"datum.x==0"}],"mark":{"type":"text","align":"right"},"encoding":{"x":{"datum":60},"y":{"datum":0.12},"text":{"value":"Hₜₚ = 1.59"}}}]},
{"width":121.5,"height":75,"data":{"values":[]},"mark":"point","encoding":{}},
{"width":121.5,"height":75,"transform":[{"filter":"datum.p=='b10r5'"}],"layer":[
{"transform":[{"filter":"datum.x==0"}],"mark":{"type":"rule","color":"#b8b8b8","strokeDash":[5,3],"strokeWidth":1},"encoding":{"y":{"datum":0.5}}},
{"mark":{"type":"line","color":"#5fc6da"},"encoding":{"x":{"field":"x","type":"quantitative","scale":{"domain":[0,60]},"axis":{"values":[0,60],"title":null,"domainColor":"#555555","labelExpr":"datum.value==0?'⬑Change':'60'","labelAlign":{"condition":{"test":"datum.value==0","value":"left"},"value":"center"},"labelFontStyle":{"condition":{"test":"datum.value==0","value":"italic"},"value":"normal"}}},"y":{"field":"L","type":"quantitative","scale":{"domain":[0,1]},"axis":{"orient":"left","values":[0,0.5,1],"format":"~g","title":null,"domainColor":"#e8332f","labelColor":"#e8332f"}}}},
{"mark":{"type":"line","color":"#8787c9"},"encoding":{"x":{"field":"x","type":"quantitative"},"y":{"field":"S","type":"quantitative"}}},
{"mark":{"type":"line","color":"#d67ec4"},"encoding":{"x":{"field":"x","type":"quantitative"},"y":{"field":"M","type":"quantitative"}}},
{"mark":{"type":"line","color":"#111111","strokeDash":[4,2]},"encoding":{"x":{"field":"x","type":"quantitative"},"y":{"field":"N","type":"quantitative"}}},
{"transform":[{"filter":"datum.x==0"}],"mark":{"type":"text","align":"right"},"encoding":{"x":{"datum":60},"y":{"datum":0.32},"text":{"value":"AAABAABBAB"}}},
{"transform":[{"filter":"datum.x==0"}],"mark":{"type":"text","align":"right"},"encoding":{"x":{"datum":60},"y":{"datum":0.12},"text":{"value":"Hₜₚ = 1.90"}}}]}
],
"config":{
"font":"Liberation Sans",
"view":{"stroke":null},
"axis":{"grid":false,"ticks":false,"labelFontSize":12.5,"labelPadding":3,"domainWidth":1.3,"labelFlush":false,"labelOverlap":false,"labelFont":"Liberation Sans","titleFont":"Liberation Sans","titleColor":"#111111"},
"axisX":{"labelPadding":8},
"line":{"strokeWidth":1.2},
"text":{"fontSize":13,"font":"Liberation Sans","color":"#111111"},
"title":{"fontSize":17,"fontWeight":"bold","baseline":"bottom","frame":"group","offset":18,"color":"#000000","font":"Liberation Sans"},
"legend":{"titleFont":"Liberation Sans","labelFont":"Liberation Sans","titleColor":"#111111","labelColor":"#111111"}
}
}
